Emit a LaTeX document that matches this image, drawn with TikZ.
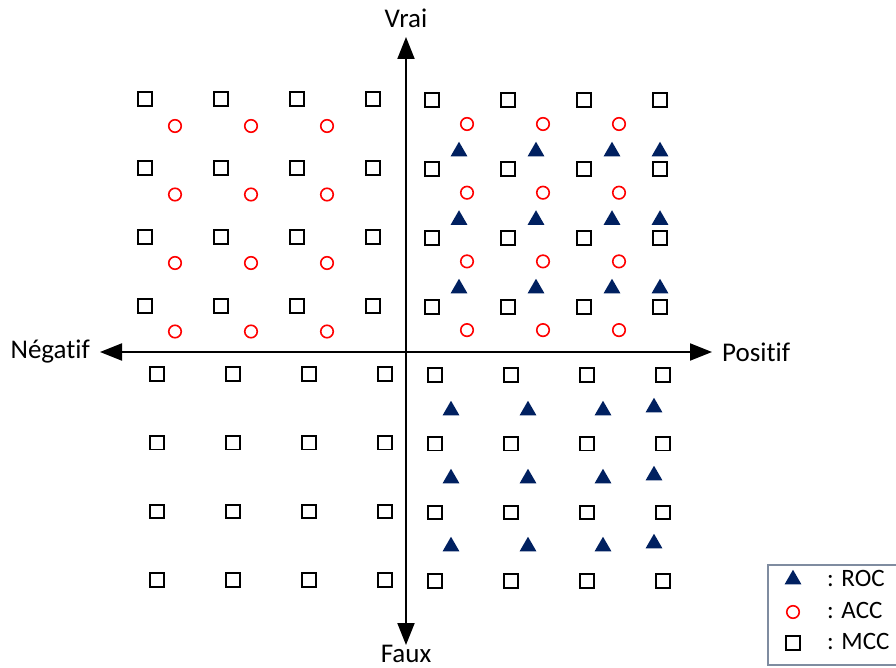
\documentclass[tikz,border=0pt]{standalone}
\usepackage{fontspec}
\setmainfont{Carlito}[Ligatures=NoCommon]
\usetikzlibrary{arrows.meta, positioning, shapes.geometric}
\definecolor{rocblue}{HTML}{002060}
\definecolor{legendgray}{HTML}{7F8CA0}
\tikzset{%
	mcc/.style={draw, rectangle, minimum width=14.5pt, minimum height=13.5pt,%
		inner sep=0pt, line width=1.8pt},
	acc/.style={draw=red, circle, minimum size=12.5pt, inner sep=0pt, line width=1.6pt},
	roc/.style={fill=rocblue, regular polygon, regular polygon sides=3,%
		minimum size=19.5pt, inner sep=0pt},
	axis/.style={line width=2pt, {Triangle[length=22pt,width=17pt]}-{Triangle[length=22pt,width=17pt]}},
	axislabel/.style={font=\fontsize{27}{32}\selectfont, inner sep=0pt},
	legendtext/.style={font=\fontsize{25}{30}\selectfont, anchor=west, inner sep=0pt},
	legendbox/.style={draw=legendgray, line width=1.5pt}
}
\begin{document}
\begin{tikzpicture}[x=1pt, y=-1pt]
	\useasboundingbox (0,0) rectangle (896,668);

	% axes
	\coordinate (neg) at (100,352);
	\coordinate (pos) at (712,352);
	\coordinate (vrai) at (406,37);
	\coordinate (faux) at (406,645);
	\draw[axis] (neg) -- (pos);
	\draw[axis] (faux) -- (vrai);
	\node[axislabel, left=10pt of neg] (negLabel) {Négatif};
	\node[axislabel, right=10pt of pos] (posLabel) {Positif};
	\node[axislabel, above=9pt of vrai] (vraiLabel) {Vrai};
	\node[axislabel, below=0pt of faux] (fauxLabel) {Faux};

	% upper left
	\foreach \i in {0,...,3}
		\foreach \j in {0,...,3}
			\node[mcc] (mccNW\i\j) at (145+76*\i, 99+69*\j) {};
	\foreach \i in {0,...,2}
		\foreach \j in {0,...,3}
			\node[acc] (accNW\i\j) at (175+76*\i, 126+68.5*\j) {};

	% upper right
	\foreach \i in {0,...,3}
		\foreach \j in {0,...,3}
			\node[mcc] (mccNE\i\j) at (432+76*\i, 100+69*\j) {};
	\foreach \i in {0,...,2}
		\foreach \j in {0,...,3}
			\node[acc] (accNE\i\j) at (467+76*\i, 124+68.7*\j) {};
	\foreach \x [count=\i] in {459,536,612,660}
		\foreach \j in {0,...,2}
			\node[roc] (rocNE\i\j) at (\x, 151.5+68.5*\j) {};

	% lower left
	\foreach \i in {0,...,3}
		\foreach \j in {0,...,3}
			\node[mcc] (mccSW\i\j) at (157+76*\i, 374+68.7*\j) {};

	% lower right
	\foreach \i in {0,...,3}
		\foreach \j in {0,...,3}
			\node[mcc] (mccSE\i\j) at (435+76*\i, 375+68.7*\j) {};
	\foreach \x/\dy [count=\i] in {451/0,528/0,603/0,654/-3}
		\foreach \j in {0,...,2}
			\node[roc] (rocSE\i\j) at (\x, 410.5+\dy+68*\j) {};

	% legend
	\coordinate (legNW) at (768,565);
	\coordinate (legSE) at (898,665);
	\draw[legendbox] (legNW) rectangle (legSE);
	\node[roc] (legRoc) at (793,579.5) {};
	\node[acc] (legAcc) at (793,612) {};
	\node[mcc] (legMcc) at (793,643) {};
	\node[legendtext] (legRocText) at (827,578) {: ROC};
	\node[legendtext] (legAccText) at (827,610) {: ACC};
	\node[legendtext] (legMccText) at (827,641) {: MCC};
\end{tikzpicture}
\end{document}
